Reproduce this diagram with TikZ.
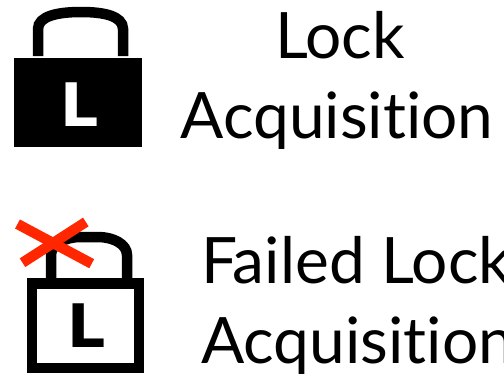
\documentclass[tikz,border=0pt]{standalone}
\usepackage{fontspec}
\setmainfont[Ligatures=NoCommon]{Lato}
\newfontfamily\lockfont{DejaVu Sans}
\usetikzlibrary{positioning}
\definecolor{crossred}{RGB}{255,38,0}
\tikzset{
  caption text/.style={
    font=\fontsize{64}{64}\selectfont,
    inner sep=0pt
  },
  lock letter/.style={
    font=\lockfont\bfseries\fontsize{60}{60}\selectfont,
    inner sep=0pt,
    anchor=base
  },
  shackle/.style={
    draw=black,
    line width=10.5pt
  },
  cross bar/.style={
    draw=crossred,
    line width=10.3pt
  }
}

\begin{document}
\begin{tikzpicture}[x=1pt, y=-1pt]
  \useasboundingbox (0, 0) rectangle (504, 378);

  % ===================================
  % 上方：获取成功的实心锁
  % ===================================
  \draw[shackle] (38, 56) -- (38, 29) .. controls (38, 16) and (58, 12) .. (81, 12)
    .. controls (104, 12) and (123, 16) .. (123, 29) -- (123, 56);
  \fill[black] (14, 58) rectangle (142, 147);
  \node[lock letter, white] (lockL) at (80, 126) {L};

  \node[caption text, anchor=base] (lockA) at (340, 58) {Lock};
  \node[caption text, anchor=base] (lockB) at (337, 138) {Acquisition};

  % ===================================
  % 下方：获取失败的空心锁与红叉
  % ===================================
  \draw[shackle] (51, 279) -- (51, 255) .. controls (51, 244) and (66, 237) .. (80, 237)
    -- (98, 237) .. controls (113, 237) and (127, 244) .. (127, 255) -- (127, 279);
  \draw[line width=10.5pt] (31.75, 283.25) rectangle (138.75, 367.75);
  \node[lock letter, black] (failL) at (87, 347) {L};

  % 红叉压在锁环之上
  \coordinate (X1) at (17.5, 224);
  \coordinate (X2) at (91.7, 263.7);
  \coordinate (X3) at (85.8, 222);
  \coordinate (X4) at (22.5, 262.7);
  \draw[cross bar] (X1) -- (X2);
  \draw[cross bar] (X3) -- (X4);

  \node[caption text, anchor=base west] (failA) at (201, 283) {Failed Lock};
  \node[caption text, anchor=base west] (failB) at (201, 363) {Acquisition};
\end{tikzpicture}
\end{document}
